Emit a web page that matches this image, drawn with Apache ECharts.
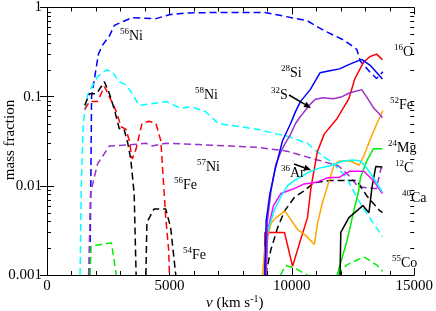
<!DOCTYPE html>
<html><head><meta charset="utf-8">
<script src="https://cdn.jsdelivr.net/npm/echarts@6/dist/echarts.min.js"></script>
<style>html,body{margin:0;padding:0;background:#fff}#c{width:436px;height:311px}</style>
</head><body><div id="c"></div>
<script>
// ---- data (velocity km/s, mass fraction) ----
const xTickLabels = ['0', '5000', '10000', '15000'];
const yTickLabels = ['0.001', '0.01', '0.1', '1'];

const ni56 = [[1750,0.001],[1790,0.01],[1820,0.1],[2100,0.3],[2270,0.38],[2550,0.48],[2750,0.63],[3230,0.72],[3480,0.77],[4450,0.75],[5000,0.83],[5700,0.87],[7000,0.88],[8900,0.88],[10630,0.71],[11320,0.55],[12130,0.43],[12650,0.34],[12800,0.25],[13180,0.19],[13460,0.16],[13720,0.19]];
const ni58 = [[1350,0.001],[1400,0.01],[1480,0.05],[1560,0.073],[1660,0.105],[2060,0.167],[2430,0.2],[2670,0.19],[2950,0.147],[3230,0.136],[3480,0.108],[3760,0.08],[4250,0.083],[4890,0.088],[5460,0.074],[5900,0.077],[6470,0.068],[7000,0.05],[7900,0.046],[8600,0.043],[9420,0.038],[9820,0.036],[10630,0.030],[11040,0.024],[11700,0.0178],[12250,0.0123],[12650,0.0074],[13060,0.0049],[13700,0.0027]];
const ni57 = [[1700,0.001],[1780,0.0083],[2060,0.0175],[2550,0.028],[3480,0.029],[4040,0.030],[4290,0.028],[4850,0.030],[6200,0.029],[7500,0.028],[8600,0.027],[9800,0.0245],[10900,0.020],[11900,0.0168],[12400,0.0125],[12700,0.0098],[13100,0.0095],[13450,0.0093],[13650,0.016],[13700,0.015]];
const fe56 = [[1540,0.072],[1740,0.088],[2060,0.088],[2345,0.13],[2550,0.10],[2830,0.068],[3030,0.046],[3230,0.043],[3360,0.032],[3480,0.020],[3640,0.026],[3880,0.050],[4170,0.053],[4450,0.050],[4650,0.032],[4740,0.013],[4850,0.0044],[4970,0.0019],[5000,0.001]];
const fe54 = [[1540,0.080],[1740,0.108],[2020,0.108],[2345,0.147],[2550,0.108],[2750,0.072],[2950,0.044],[3150,0.043],[3300,0.030],[3420,0.020],[3560,0.0082],[3640,0.001],[3800,null],[4040,0.001],[4080,0.0039],[4370,0.0055],[4850,0.0055],[5050,0.0034],[5260,0.001],[7000,null],[8930,0.001],[9140,0.0019],[9420,0.0034],[9700,0.0052],[10100,0.0074],[10500,0.0088],[10900,0.0108],[11550,0.0115],[12650,0.0115],[13050,0.0078],[13580,0.0053],[13700,0.005]];
const co55 = [[1760,0.001],[1800,0.0021],[2630,0.0023],[2670,0.0024],[2750,0.0014],[2830,0.001],[6000,null],[9540,0.001],[9740,0.00128],[10100,0.0012],[10630,0.001],[11200,null],[11850,0.001],[12250,0.0013],[12940,0.0016],[13460,0.0013],[13700,0.0011]];

const si28 = [[8900,0.001],[8950,0.004],[9100,0.008],[9300,0.0146],[9620,0.032],[9950,0.05],[10150,0.068],[10350,0.088],[10750,0.12],[11150,0.185],[11550,0.195],[11950,0.205],[12350,0.23],[12850,0.262],[13200,0.225],[13700,0.158]];
const s32 = [[8950,0.001],[9000,0.004],[9150,0.0088],[9350,0.0175],[9550,0.024],[9700,0.029],[9950,0.038],[10150,0.05],[10350,0.06],[10750,0.082],[10950,0.093],[11250,0.097],[11700,0.095],[12050,0.10],[12350,0.11],[12850,0.12],[13050,0.10],[13350,0.074],[13550,0.065],[13700,0.058]];
const o16 = [[8880,0.001],[8900,0.003],[9700,0.003],[10030,0.00125],[10320,0.0023],[10640,0.0044],[10780,0.0095],[11040,0.024],[11320,0.038],[11850,0.057],[12330,0.095],[12570,0.158],[12940,0.245],[13180,0.28],[13460,0.30],[13700,0.26]];
const fe52 = [[8800,0.001],[8900,0.002],[9150,0.0038],[9350,0.0044],[9720,0.0052],[10250,0.0032],[10550,0.0028],[10920,0.0022],[11050,0.0038],[11250,0.0065],[11450,0.0098],[11730,0.0175],[11970,0.019],[12400,0.019],[12750,0.017],[12950,0.022],[13180,0.032],[13460,0.049],[13720,0.07]];
const mg24 = [[11850,0.001],[12250,0.0024],[12530,0.0052],[12730,0.0088],[12800,0.0123],[13060,0.019],[13330,0.026],[13700,0.026]];
const c12 = [[11970,0.001],[12000,0.003],[12330,0.0044],[12570,0.005],[12900,0.006],[13150,0.005],[13270,0.0095],[13430,0.0165],[13700,0.0163]];
const ar36 = [[8930,0.001],[9000,0.003],[9300,0.0055],[9550,0.0075],[9820,0.010],[10100,0.0115],[10350,0.0125],[10750,0.0145],[11120,0.0158],[11450,0.0165],[11750,0.0175],[12100,0.019],[12500,0.0195],[12800,0.019],[13050,0.016],[13350,0.012],[13700,0.0085]];
const ca40 = [[8950,0.001],[9020,0.0032],[9250,0.006],[9550,0.0082],[9850,0.0088],[10100,0.0093],[10500,0.0105],[11030,0.011],[11450,0.0123],[11950,0.0125],[12370,0.0146],[12940,0.0146],[13340,0.0114],[13700,0.0082]];

// minor log ticks 2..9 per decade
const minorTickVals = [0.002,0.003,0.004,0.005,0.006,0.007,0.008,0.009,0.02,0.03,0.04,0.05,0.06,0.07,0.08,0.09,0.2,0.3,0.4,0.5,0.6,0.7,0.8,0.9];

const FONT = 'Liberation Serif';
const chart = echarts.init(document.getElementById('c'), null, {renderer: 'canvas'});

function ln(name, data, color, dashed) {
  return {
    name, type: 'line', data, showSymbol: false, symbol: 'none', connectNulls: false,
    animation: false, clip: true,
    lineStyle: {color, width: 1.5, type: dashed ? [7, 4] : 'solid'}
  };
}

function isoLabel(sup, el, x, y) {
  return {
    type: 'text', x: x, y: y - 4, z: 100,
    style: {
      text: '{s|' + sup + '}{e|' + el + '}',
      align: 'left', verticalAlign: 'top',
      rich: {
        s: {fontFamily: FONT, fontSize: 9, fill: '#000', verticalAlign: 'top', lineHeight: 16},
        e: {fontFamily: FONT, fontSize: 14, fill: '#000', verticalAlign: 'bottom', lineHeight: 16}
      }
    }
  };
}

function arrow(x1, y1, x2, y2) {
  const dx = x2 - x1, dy = y2 - y1, L = Math.hypot(dx, dy);
  const ux = dx / L, uy = dy / L, hl = 7, hw = 3;
  const bx = x2 - ux * hl, by = y2 - uy * hl;
  return [
    {type: 'line', z: 100, shape: {x1, y1, x2: bx, y2: by}, style: {stroke: '#000', lineWidth: 1.5}},
    {type: 'polygon', z: 100, shape: {points: [[x2, y2], [bx - uy * hw, by + ux * hw], [bx + uy * hw, by - ux * hw]]}, style: {fill: '#000'}}
  ];
}

const axisCommon = {
  axisLine: {show: true, lineStyle: {color: '#000', width: 1}},
  splitLine: {show: false}
};

const option = {
  animation: false,
  backgroundColor: '#fff',
  grid: {left: 47, right: 18, top: 5, bottom: 36, containLabel: false},
  xAxis: [
    Object.assign({
      type: 'value', min: 0, max: 15000, interval: 5000, position: 'bottom',
      axisTick: {show: true, inside: true, length: 7, lineStyle: {color: '#000'}},
      minorTick: {show: true, splitNumber: 5, length: 4, lineStyle: {color: '#000'}},
      axisLabel: {fontFamily: FONT, fontSize: 15, color: '#000', margin: 4,
        formatter: v => xTickLabels[Math.round(v / 5000)]}
    }, axisCommon),
    Object.assign({
      type: 'value', min: 0, max: 15000, interval: 5000, position: 'top',
      axisTick: {show: true, inside: true, length: 7, lineStyle: {color: '#000'}},
      minorTick: {show: true, splitNumber: 5, length: 4, lineStyle: {color: '#000'}},
      axisLabel: {show: false}
    }, axisCommon)
  ],
  yAxis: [
    Object.assign({
      type: 'log', logBase: 10, min: 0.001, max: 1, position: 'left',
      axisTick: {show: true, inside: true, length: 7, lineStyle: {color: '#000'}},
      axisLabel: {fontFamily: FONT, fontSize: 15, color: '#000', margin: 5,
        formatter: v => yTickLabels[Math.round(Math.log10(v)) + 3]}
    }, axisCommon),
    Object.assign({
      type: 'log', logBase: 10, min: 0.001, max: 1, position: 'right',
      axisTick: {show: true, inside: true, length: 7, lineStyle: {color: '#000'}},
      axisLabel: {show: false}
    }, axisCommon)
  ],
  series: [
    ln('56Ni', ni56, '#0000ff', true),
    ln('58Ni', ni58, '#00ffff', true),
    ln('57Ni', ni57, '#9932cc', true),
    ln('56Fe', fe56, '#ff0000', true),
    ln('54Fe', fe54, '#000000', true),
    ln('55Co', co55, '#00ee00', true),
    ln('16O', o16, '#ff0000', false),
    ln('52Fe', fe52, '#ffa500', false),
    ln('24Mg', mg24, '#00ee00', false),
    ln('12C', c12, '#000000', false),
    ln('40Ca', ca40, '#ff00ff', false),
    ln('36Ar', ar36, '#00ffff', false),
    ln('32S', s32, '#9932cc', false),
    ln('28Si', si28, '#0000ff', false),
    {
      type: 'custom', name: 'minorTicks', animation: false, silent: true, clip: false, z: 10,
      data: minorTickVals.map(v => [0, v]),
      renderItem: (params, api) => {
        const v = api.value(1);
        const pL = api.coord([0, v]);
        const pR = api.coord([15000, v]);
        const y = Math.round(pL[1]) + 0.5;
        return {type: 'group', children: [
          {type: 'line', shape: {x1: pL[0], y1: y, x2: pL[0] + 4, y2: y}, style: {stroke: '#000', lineWidth: 1}},
          {type: 'line', shape: {x1: pR[0] - 4, y1: y, x2: pR[0], y2: y}, style: {stroke: '#000', lineWidth: 1}}
        ]};
      }
    }
  ],
  graphic: [
    isoLabel('56', 'Ni', 120, 31),
    isoLabel('58', 'Ni', 195, 90),
    isoLabel('57', 'Ni', 197, 162),
    isoLabel('56', 'Fe', 174, 180),
    isoLabel('54', 'Fe', 183, 250),
    isoLabel('28', 'Si', 281, 68),
    isoLabel('32', 'S', 271, 90),
    isoLabel('16', 'O', 394, 47),
    isoLabel('52', 'Fe', 390, 100),
    isoLabel('24', 'Mg', 388, 143),
    isoLabel('12', 'C', 395, 163),
    isoLabel('40', 'Ca', 402, 193),
    isoLabel('55', 'Co', 392, 258),
    isoLabel('36', 'Ar', 281, 168),
    ...arrow(289, 95, 311, 108),
    ...arrow(294, 164, 311, 170),
    {
      type: 'text', x: 10, y: 140, rotation: Math.PI / 2, z: 100,
      style: {text: 'mass fraction', fontFamily: FONT, fontSize: 15, fill: '#000', align: 'center', verticalAlign: 'middle'}
    },
    {
      type: 'text', x: 206, y: 294, z: 100,
      style: {
        text: '{i|v}{n| (km s}{s|-1}{n|)}', align: 'left', verticalAlign: 'top',
        rich: {
          i: {fontFamily: FONT, fontStyle: 'italic', fontSize: 15, fill: '#000', verticalAlign: 'bottom', lineHeight: 17},
          n: {fontFamily: FONT, fontSize: 15, fill: '#000', verticalAlign: 'bottom', lineHeight: 17},
          s: {fontFamily: FONT, fontSize: 10, fill: '#000', verticalAlign: 'top', lineHeight: 17}
        }
      }
    }
  ]
};
chart.setOption(option);
</script></body></html>
